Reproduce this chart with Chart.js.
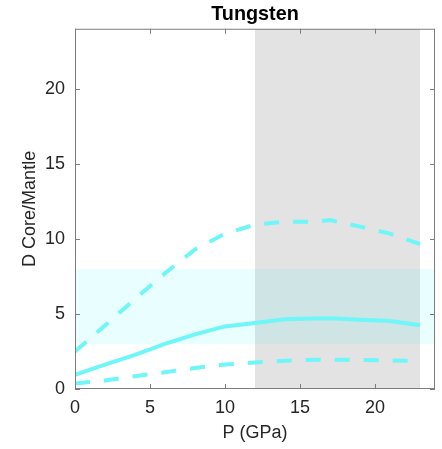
<!DOCTYPE html>
<html>
<head>
<meta charset="utf-8">
<title>Tungsten</title>
<script src="https://cdn.jsdelivr.net/npm/chart.js@4.4.1/dist/chart.umd.min.js"></script>
<style>
  html, body { margin: 0; padding: 0; background: #fff; }
  #wrap { width: 442px; height: 449px; }
</style>
</head>
<body>
<div id="wrap"><canvas id="myChart"></canvas></div>
<script>
// pressure steps (GPa) and partition coefficients
const pressure = [0, 2, 4, 6, 8, 10, 12, 14, 16, 17, 19, 21, 23];
const dMid = [0.95, 1.63, 2.28, 3.0, 3.64, 4.17, 4.4, 4.64, 4.7, 4.72, 4.62, 4.53, 4.25];
const dHigh = [2.5, 4.23, 6.0, 7.71, 9.3, 10.35, 10.95, 11.15, 11.13, 11.25, 10.82, 10.35, 9.65];
const dLow = [0.37, 0.57, 0.85, 1.12, 1.4, 1.63, 1.76, 1.88, 1.95, 1.96, 1.94, 1.91, 1.87];

// shaded ranges
const pressureRange = [12, 23];
const mantleRange = [3, 8];

const xTicks = [0, 5, 10, 15, 20];
const yTicks = [0, 5, 10, 15, 20];
const xMax = 24;
const yMax = 24;

const cyan = "rgb(110,246,248)";
const axisColor = "#262626";
Chart.defaults.font.family = "'Liberation Sans', Arial, Helvetica, sans-serif";

const toPoints = (ys) => pressure.map((p, i) => ({ x: p, y: ys[i] }));

// box around the plot with inward tick marks on every side
const boxPlugin = {
  id: "boxPlugin",
  afterDraw(chart) {
    const { ctx, chartArea: a, scales } = chart;
    const len = 5;
    ctx.save();
    ctx.strokeStyle = "#7d7d7d";
    ctx.lineWidth = 1;
    ctx.strokeRect(a.left + 0.5, a.top + 0.5, a.right - a.left - 1, a.bottom - a.top - 1);
    ctx.beginPath();
    xTicks.forEach((v) => {
      const px = Math.round(scales.x.getPixelForValue(v)) + 0.5;
      ctx.moveTo(px, a.bottom);
      ctx.lineTo(px, a.bottom - len);
      ctx.moveTo(px, a.top);
      ctx.lineTo(px, a.top + len);
    });
    yTicks.forEach((v) => {
      const py = Math.round(scales.y.getPixelForValue(v)) + 0.5;
      ctx.moveTo(a.left, py);
      ctx.lineTo(a.left + len, py);
      ctx.moveTo(a.right, py);
      ctx.lineTo(a.right - len, py);
    });
    ctx.stroke();
    ctx.restore();
  },
};

const lineStyle = {
  borderColor: cyan,
  borderWidth: 4,
  pointRadius: 0,
  tension: 0,
  fill: false,
  borderCapStyle: "butt",
  order: 0,
};

new Chart(document.getElementById("myChart"), {
  type: "line",
  data: {
    datasets: [
      { ...lineStyle, label: "mid", data: toPoints(dMid) },
      { ...lineStyle, label: "high", data: toPoints(dHigh), borderDash: [15, 14] },
      { ...lineStyle, label: "low", data: toPoints(dLow), borderDash: [15, 14] },
      {
        label: "mantle",
        data: [{ x: 0, y: mantleRange[1] }, { x: xMax, y: mantleRange[1] }],
        fill: { value: mantleRange[0] },
        backgroundColor: "rgba(0,240,255,0.09)",
        borderWidth: 0,
        pointRadius: 0,
        order: 1,
      },
      {
        label: "pressure",
        data: [{ x: pressureRange[0], y: yMax }, { x: pressureRange[1], y: yMax }],
        fill: "origin",
        backgroundColor: "#e3e3e3",
        borderWidth: 0,
        pointRadius: 0,
        order: 2,
      },
    ],
  },
  options: {
    responsive: true,
    maintainAspectRatio: false,
    animation: false,
    devicePixelRatio: 1,
    layout: { padding: { left: 0, right: 7, top: 0, bottom: 0 } },
    plugins: {
      legend: { display: false },
      tooltip: { enabled: false },
      title: {
        display: true,
        text: "Tungsten",
        color: "#000",
        fullSize: false,
        font: { size: 19.8, weight: "bold" },
        padding: { top: 3, bottom: 2 },
      },
    },
    scales: {
      x: {
        type: "linear",
        min: 0,
        max: xMax,
        afterBuildTicks: (scale) => {
          scale.ticks = xTicks.map((v) => ({ value: v }));
        },
        afterFit: (scale) => {
          scale.height = 60;
        },
        grid: { display: false, drawTicks: false },
        border: { display: false },
        ticks: { color: axisColor, font: { size: 18 }, padding: 8, maxRotation: 0 },
        title: {
          display: true,
          text: "P (GPa)",
          color: axisColor,
          font: { size: 18 },
          padding: { top: 0, bottom: 5 },
        },
      },
      y: {
        type: "linear",
        min: 0,
        max: yMax,
        afterBuildTicks: (scale) => {
          scale.ticks = yTicks.map((v) => ({ value: v }));
        },
        afterFit: (scale) => {
          scale.width = 75;
        },
        grid: { display: false, drawTicks: false },
        border: { display: false },
        ticks: { color: axisColor, font: { size: 18 }, padding: 10 },
        title: {
          display: true,
          text: "D Core/Mantle",
          color: axisColor,
          font: { size: 18 },
          padding: { top: 19, bottom: 0 },
        },
      },
    },
  },
  plugins: [boxPlugin],
});
</script>
</body>
</html>
